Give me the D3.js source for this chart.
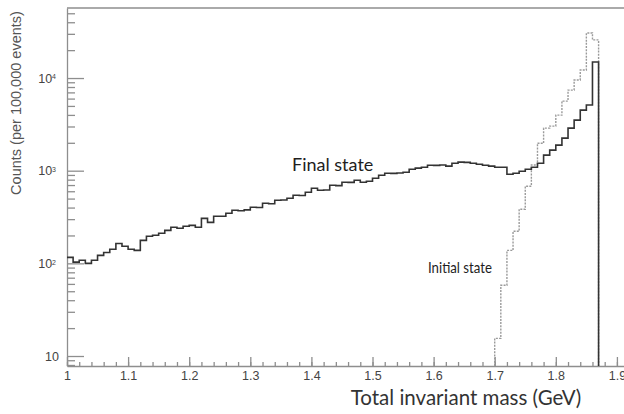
<!DOCTYPE html>
<meta charset="utf-8">
<style>
body { margin: 0; background: #fff; }
svg { display: block; }
.axis path, .axis line { stroke: #8e8e8e; stroke-width: 1.3px; }
.axis text { fill: #444; font: 12.5px "Liberation Sans", Arial, sans-serif; }
.label { font-family: Lato, "Open Sans", sans-serif; fill: #1e1e1e; }
</style>
<svg width="624" height="414" id="chart"></svg>
<script src="https://d3js.org/d3.v7.min.js"></script>
<script>

// histogram bins, 0.01 GeV wide
var binWidth = 0.01;
var finalStart = 1.00;
var finalCounts = [
  116, 103, 108, 100, 108, 122, 131, 142, 164, 153,
  142, 138, 177, 196, 201, 211, 227, 245, 239, 251,
  257, 245, 306, 277, 322, 322, 347, 374, 370, 378,
  403, 400, 445, 440, 480, 482, 505, 543, 540, 586,
  647, 615, 618, 697, 690, 751, 748, 789, 751, 770,
  830, 894, 940, 935, 945, 963, 1038, 1065, 1091, 1146,
  1140, 1150, 1119, 1205, 1236, 1230, 1205, 1175, 1146, 1119,
  1091, 1091, 917, 940, 985, 1038, 1091, 1205, 1471, 1667,
  1888, 2246, 2880, 3513, 4508, 5108, 14900
];
var initialStart = 1.70;
var initialCounts = [
  15.5, 58, 138, 222, 384, 680, 1150, 1980, 2880, 3030,
  3980, 5640, 7410, 9510, 12200, 30600, 25800
];

var massTicks = [1, 1.1, 1.2, 1.3, 1.4, 1.5, 1.6, 1.7, 1.8, 1.9];
var countTicks = [10, 100, 1000, 10000];
var countTickPowers = ["", "2", "3", "4"];

var svg = d3.select("#chart"),
    plotLeft = 67, plotRight = 624, plotTop = 8, plotBottom = 366;

var x = d3.scaleLinear().domain([1, 1.9116]).range([plotLeft, plotRight]);
var y = d3.scaleLog().domain([7.8, 57000]).range([plotBottom, plotTop]);

// frame top line
svg.append("line")
    .attr("x1", plotLeft).attr("x2", plotRight)
    .attr("y1", plotTop).attr("y2", plotTop)
    .attr("stroke", "#8e8e8e").attr("stroke-width", 1.3);

// x axis: minor + major ticks pointing up
svg.append("g")
    .attr("class", "axis")
    .attr("transform", "translate(0," + plotBottom + ")")
    .call(d3.axisBottom(x).tickValues(x.ticks(46)).tickSize(-4).tickFormat(""))
    .call(function(g) { g.select(".domain").remove(); });

svg.append("g")
    .attr("class", "axis")
    .attr("transform", "translate(0," + plotBottom + ")")
    .call(d3.axisBottom(x).tickValues(massTicks).tickSizeInner(-9).tickSizeOuter(0).tickPadding(5)
        .tickFormat(function(d) { return String(+d.toFixed(1)); }));

// y axis: minor + major ticks pointing right
var minor = y.ticks().filter(function(d) { return countTicks.indexOf(d) < 0; });
svg.append("g")
    .attr("class", "axis")
    .attr("transform", "translate(" + plotLeft + ",0)")
    .call(d3.axisLeft(y).tickValues(minor).tickSize(-8).tickFormat(""))
    .call(function(g) { g.select(".domain").remove(); });

var yAxis = svg.append("g")
    .attr("class", "axis")
    .attr("transform", "translate(" + plotLeft + ",0)")
    .call(d3.axisLeft(y).tickValues(countTicks).tickSizeInner(-17).tickSizeOuter(0).tickPadding(8)
        .tickFormat(function() { return "10"; }));

yAxis.selectAll(".tick text")
    .attr("dx", function(d, i) { return countTickPowers[i] ? "-3" : "0"; })
    .append("tspan")
    .attr("dy", "-0.45em")
    .style("font-size", "7px")
    .text(function(d, i) { return countTickPowers[i]; });

// histograms as step lines
var line = d3.line()
    .x(function(d) { return x(d[0]); })
    .y(function(d) { return d[1] == null ? plotBottom : y(d[1]); })
    .curve(d3.curveStepAfter);

function steps(start, counts, fromBottom) {
  var pts = fromBottom ? [[start, null]] : [];
  counts.forEach(function(c, i) { pts.push([start + i * binWidth, c]); });
  var end = start + counts.length * binWidth;
  pts.push([end, counts[counts.length - 1]]);
  pts.push([end, null]);
  return pts;
}

svg.append("path")
    .attr("d", line(steps(initialStart, initialCounts, true)))
    .attr("fill", "none")
    .attr("stroke", "#9a9a9a")
    .attr("stroke-width", 1.4)
    .attr("stroke-dasharray", "2,1.2");

svg.append("path")
    .attr("d", line(steps(finalStart, finalCounts, false)))
    .attr("fill", "none")
    .attr("stroke", "#333")
    .attr("stroke-width", 1.6);

// labels
svg.append("text")
    .attr("class", "label")
    .attr("x", 292).attr("y", 171)
    .style("font-size", "18px")
    .text("Final state");

svg.append("text")
    .attr("class", "label")
    .attr("x", 428).attr("y", 273)
    .attr("textLength", 64)
    .attr("lengthAdjust", "spacingAndGlyphs")
    .style("font-size", "15px")
    .text("Initial state");

svg.append("text")
    .attr("class", "label")
    .attr("x", 466).attr("y", 405)
    .attr("text-anchor", "middle")
    .style("font-size", "20.5px")
    .style("fill", "#333")
    .text("Total invariant mass (GeV)");

svg.append("text")
    .attr("transform", "translate(21,103) rotate(-90)")
    .attr("text-anchor", "middle")
    .style("font", "14.5px 'Liberation Sans', Arial, sans-serif")
    .style("fill", "#555")
    .text("Counts (per 100,000 events)");

</script>
